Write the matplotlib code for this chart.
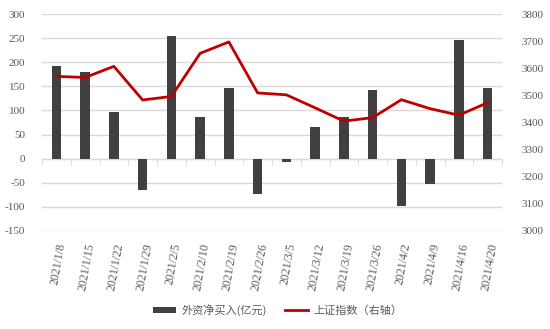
import numpy as np
import matplotlib
import matplotlib.pyplot as plt
from matplotlib.ticker import FixedLocator, FuncFormatter

matplotlib.use('Agg')

# weekly data
dates = ['2021/1/8', '2021/1/15', '2021/1/22', '2021/1/29', '2021/2/5', '2021/2/10',
         '2021/2/19', '2021/2/26', '2021/3/5', '2021/3/12', '2021/3/19', '2021/3/26',
         '2021/4/2', '2021/4/9', '2021/4/16', '2021/4/20']
net_buy = [192, 179, 96, -66, 255, 86, 147, -74, -7, 66, 86, 142, -98, -53, 246, 147]
sh_index = [3570, 3566, 3607, 3483, 3496, 3655, 3697, 3509, 3502, 3454, 3405, 3418,
            3484, 3451, 3427, 3473]

plt.rcParams['font.family'] = ['Liberation Serif', 'Noto Sans CJK SC']
grey = '#595959'

fig = plt.figure(figsize=(5.5, 3.29), dpi=100)
ax = fig.add_axes([42 / 550, 1 - 231 / 329, 460 / 550, 217 / 329])
x = np.arange(len(dates))

ax.bar(x, net_buy, width=0.33, color='#404040', zorder=3, label='外资净买入(亿元)')
ax.set_ylim(-150, 300)
ax.set_xlim(-0.5, len(dates) - 0.5)
ax.set_yticks(np.arange(-150, 301, 50))
ax.yaxis.set_major_formatter(FuncFormatter(lambda v, p: '%d' % v))
ax.grid(axis='y', color='#D9D9D9', linewidth=1, zorder=0)
ax.tick_params(axis='y', length=0, labelsize=8, labelcolor=grey, pad=12)

# category separators on the zero line
for s in ['top', 'right', 'left']:
    ax.spines[s].set_visible(False)
ax.spines['bottom'].set_position(('data', 0))
ax.spines['bottom'].set_color('#D9D9D9')
ax.set_xticks([])
ax.xaxis.set_minor_locator(FixedLocator(np.arange(-0.5, len(dates), 1)))
ax.tick_params(axis='x', which='minor', length=4, color='#D9D9D9', direction='out')

# date labels along the bottom edge
sec = ax.secondary_xaxis('bottom')
sec.set_xticks(x)
sec.set_xticklabels(dates, rotation=80, ha='right', rotation_mode='anchor')
sec.tick_params(length=0, labelsize=8.5, labelcolor=grey, pad=8)
sec.spines['bottom'].set_visible(False)

ax2 = ax.twinx()
ax2.plot(x, sh_index, color='#C00000', linewidth=2, zorder=4, label='上证指数（右轴）')
ax2.set_ylim(3000, 3800)
ax2.set_yticks(np.arange(3000, 3801, 100))
ax2.tick_params(axis='y', length=0, labelsize=8, labelcolor=grey, pad=14)
for s in ['top', 'right', 'left', 'bottom']:
    ax2.spines[s].set_visible(False)

h1, l1 = ax.get_legend_handles_labels()
h2, l2 = ax2.get_legend_handles_labels()
fig.legend(h1 + h2, l1 + l2, loc='center', bbox_to_anchor=(0.505, 1 - 310 / 329), ncol=2,
           frameon=False, labelcolor=grey, handlelength=2.1,
           handleheight=0.5, handletextpad=0.5, columnspacing=1.6,
           prop={'family': ['Noto Sans CJK SC'], 'size': 8})

fig.savefig('out.png', dpi=100)
